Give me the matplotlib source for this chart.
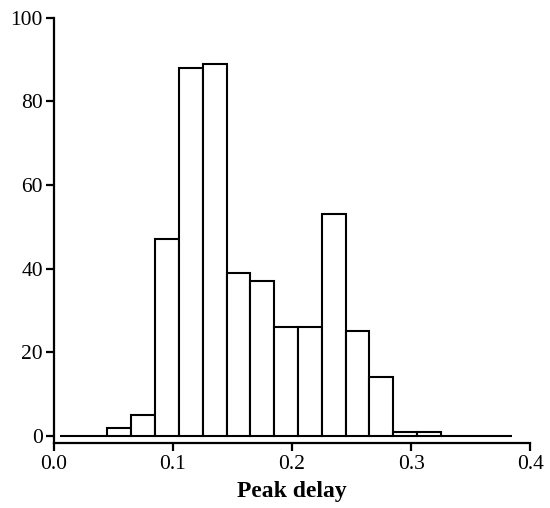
import numpy as np
import matplotlib
matplotlib.use("Agg")
from matplotlib import pyplot as plt

# bin left edges (peak delay) and counts
bin_edges = [0.005, 0.025, 0.045, 0.065, 0.085, 0.105, 0.125, 0.145, 0.165, 0.185,
             0.205, 0.225, 0.245, 0.265, 0.285, 0.305, 0.325, 0.345, 0.365]
counts = [0, 0, 2, 5, 47, 88, 89, 39, 37, 26, 26, 53, 25, 14, 1, 1, 0, 0, 0]
bin_width = 0.02

x_ticks = [0.0, 0.1, 0.2, 0.3, 0.4]
x_labels = ["0.0", "0.1", "0.2", "0.3", "0.4"]
y_ticks = [0, 20, 40, 60, 80, 100]

plt.rcParams['font.family'] = ['Liberation Serif', 'DejaVu Serif']

fig = plt.figure(figsize=(5.5, 5.08), dpi=100)
ax = fig.add_axes([0.098, 0.128, 0.866, 0.837])

ax.bar(bin_edges, counts, width=bin_width, align='edge', bottom=0,
       facecolor='white', edgecolor='black', linewidth=1.5)

ax.set_xlim(0, 0.4)
ax.set_ylim(-1.7, 100)
ax.set_xticks(x_ticks)
ax.set_xticklabels(x_labels)
ax.set_yticks(y_ticks)

for s in ['top', 'right']:
    ax.spines[s].set_visible(False)
for s in ['left', 'bottom']:
    ax.spines[s].set_linewidth(1.6)

ax.tick_params(axis='both', direction='out', length=6, width=1.6,
               labelsize=15.5, colors='black')
ax.tick_params(axis='x', pad=3)
ax.tick_params(axis='y', pad=2)

ax.set_xlabel('Peak delay', fontsize=17, fontweight='bold', labelpad=5)

fig.savefig('out.png', dpi=100)
